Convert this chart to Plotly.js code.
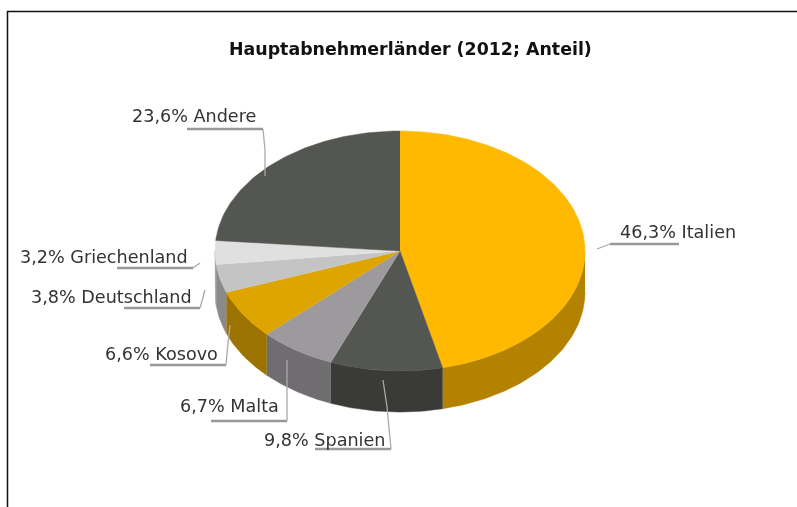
<!DOCTYPE html>
<html><head><meta charset="utf-8">
<script src="https://cdn.plot.ly/plotly-3.0.1.min.js"></script>
<style>html,body{margin:0;padding:0;background:#fff;overflow:hidden}#c{width:797px;height:507px;filter:blur(0.45px)}</style>
</head><body><div id="c"></div>
<script>
const countries = ['Italien','Spanien','Malta','Kosovo','Deutschland','Griechenland','Andere'];
const shares = [46.3,9.8,6.7,6.6,3.8,3.2,23.6];
const topColors = ['#FFB900','#545652','#9C9A9C','#DEA500','#C4C4C4','#E0E0E0','#545652'];
const sideColors = ['#B38200','#3A3B38','#6F6D70','#9C7300','#8A8A8A','#9A9A9A','#3A3B38'];
const titleText = 'Hauptabnehmerländer (2012; Anteil)';

const CX=400, CY=251, RX=185, RY=120, DEPTH=41;
const pt = (deg,dy=0)=>{const r=deg*Math.PI/180;return [CX+RX*Math.sin(r), CY-RY*Math.cos(r)+dy];};
function arc(a,b,dy){const o=[];const n=Math.max(2,Math.ceil(Math.abs(b-a)));for(let i=0;i<=n;i++)o.push(pt(a+(b-a)*i/n,dy));return o;}
function poly(points,color,name){return {type:'scatter',mode:'lines',x:points.map(p=>p[0]),y:points.map(p=>p[1]),fill:'toself',fillcolor:color,line:{color:color,width:0.5},name:name,hoverinfo:'name',showlegend:false};}

const sides=[],tops=[];
let acc=0;
countries.forEach((name,i)=>{
  const a=acc/100*360, b=(acc+shares[i])/100*360; acc+=shares[i];
  const s=Math.max(a,90), e=Math.min(b,270);
  if(e>s) sides.push(poly(arc(s,e,0).concat(arc(e,s,DEPTH)),sideColors[i],name));
  tops.push(poly([[CX,CY]].concat(arc(a,b,0)),topColors[i],name));
});

const label=(i)=>shares[i].toFixed(1).replace('.',',')+'% '+countries[i];
const labelPos=[[620,232,'left'],[385,440,'right'],[279,406,'right'],[218,354,'right'],[192,297,'right'],[188,257,'right'],[256,116,'right']];
const annotations=labelPos.map((p,i)=>({xref:'x',yref:'y',x:p[0],y:p[1],xanchor:p[2],yanchor:'middle',text:label(i),showarrow:false,font:{family:'DejaVu Sans',size:17.6,color:'#333'},borderpad:0,borderwidth:0}));
annotations.push({xref:'x',yref:'y',x:410,y:49,xanchor:'center',yanchor:'middle',text:'<b>'+titleText+'</b>',showarrow:false,font:{family:'DejaVu Sans',size:17.4,color:'#111'}});

const leaders=[
 [[679,244],[610,244],[597,249]],
 [[315,449],[391,449],[387,407],[383,380]],
 [[211,421],[287,421],[287,360]],
 [[150,365],[226,365],[228,343],[230,325]],
 [[124,308],[200,308],[205,290]],
 [[117,268],[193,268],[200,263]],
 [[187,129],[263,129],[265,150],[265,176]]
];
const shapes=[];
leaders.forEach(l=>{
  shapes.push({type:'line',xref:'x',yref:'y',x0:l[0][0],y0:l[0][1],x1:l[1][0],y1:l[1][1],line:{color:'#999',width:2.5},layer:'above'});
  for(let i=1;i<l.length-1;i++)shapes.push({type:'line',xref:'x',yref:'y',x0:l[i][0],y0:l[i][1],x1:l[i+1][0],y1:l[i+1][1],line:{color:'#aaa',width:1.3},layer:'above'});
});
shapes.push({type:'line',xref:'x',yref:'y',x0:7,y0:11.5,x1:797,y1:11.5,line:{color:'#111',width:1.5}});
shapes.push({type:'line',xref:'x',yref:'y',x0:7.5,y0:11,x1:7.5,y1:507,line:{color:'#111',width:1.5}});

const ax=(r)=>({range:r,visible:false,fixedrange:true});
Plotly.newPlot('c',sides.concat(tops),{
  width:797,height:507,margin:{l:0,r:0,t:0,b:0},paper_bgcolor:'#fff',plot_bgcolor:'#fff',
  xaxis:ax([0,797]),yaxis:ax([507,0]),showlegend:false,shapes:shapes,annotations:annotations
},{displayModeBar:false});
</script></body></html>
